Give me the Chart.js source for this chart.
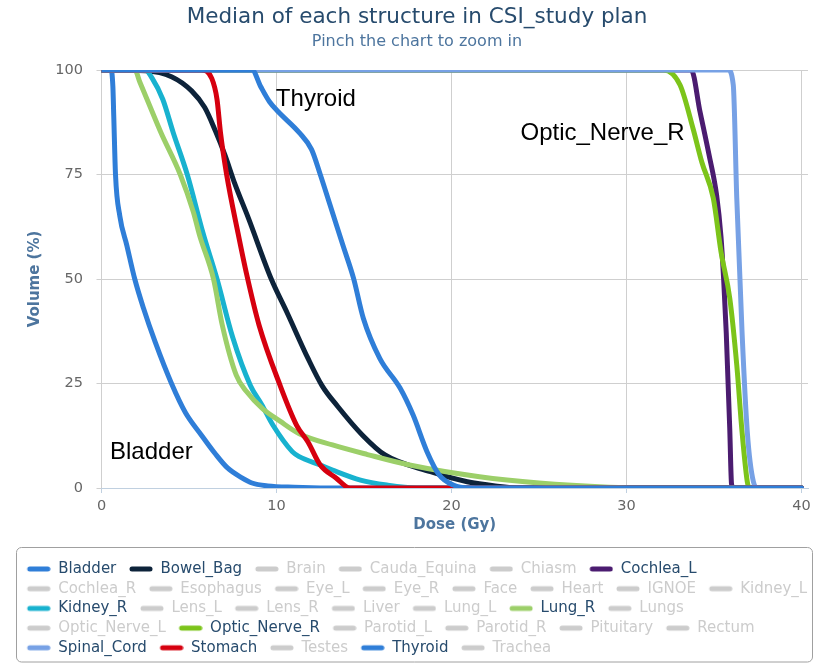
<!DOCTYPE html>
<html><head><meta charset="utf-8">
<script src="https://cdn.jsdelivr.net/npm/chart.js@4/dist/chart.umd.min.js"></script>
<style>html,body{margin:0;padding:0;background:#fff;}#wrap{width:824px;height:667px;}</style>
</head><body><div id="wrap"><canvas id="c" width="824" height="667"></canvas></div>
<script>
// ---- data ----
const chartTitle = 'Median of each structure in CSI_study plan';
const chartSubtitle = 'Pinch the chart to zoom in';
const xAxisTitle = 'Dose (Gy)';
const yAxisTitle = 'Volume (%)';
const doseTicks = [0, 10, 20, 30, 40];
const volumeTicks = [0, 25, 50, 75, 100];

const structures = ['Bladder','Bowel_Bag','Brain','Cauda_Equina','Chiasm','Cochlea_L','Cochlea_R','Esophagus','Eye_L','Eye_R','Face','Heart','IGNOE','Kidney_L','Kidney_R','Lens_L','Lens_R','Liver','Lung_L','Lung_R','Lungs','Optic_Nerve_L','Optic_Nerve_R','Parotid_L','Parotid_R','Pituitary','Rectum','Spinal_Cord','Stomach','Testes','Thyroid','Trachea'];
const shownStructures = ['Bladder','Bowel_Bag','Cochlea_L','Kidney_R','Lung_R','Optic_Nerve_R','Spinal_Cord','Stomach','Thyroid'];

const bladderDose   = [0, 0.55, 0.65, 0.7, 0.8, 1.05, 1.45, 1.9, 2.4, 3.06, 4.0, 4.8, 5.7, 6.5, 7.2, 8.0, 8.6, 9.5, 11, 14, 40];
const bladderVolume = [100, 100, 96, 89, 75, 65, 58, 50, 43, 35, 25, 18, 12.7, 8.2, 4.8, 2.5, 1.2, 0.5, 0.2, 0, 0];

const bowelBagDose   = [0, 2.5, 4.0, 5.15, 5.9, 6.5, 7.05, 7.6, 8.4, 9.7, 10.6, 11.8, 12.6, 13.5, 14.9, 16.2, 18.8, 20.9, 22.5, 24, 40];
const bowelBagVolume = [100, 99.8, 98.4, 95, 91, 85.5, 79.7, 73, 64.5, 50, 42, 31, 24.5, 19.5, 12.7, 7.9, 3.9, 1.5, 0.5, 0, 0];

const cochleaLDose   = [0, 33.7, 34.2, 34.7, 35.15, 35.4, 35.55, 35.7, 35.9, 36.0, 36.1, 40];
const cochleaLVolume = [100, 100, 90, 80, 70, 60, 50, 37, 14, 1, 0, 0];

const kidneyRDose   = [0, 2.5, 2.9, 3.5, 4.1, 4.9, 5.8, 6.6, 7.5, 8.5, 9.15, 9.8, 10.9, 11.3, 12.5, 13.2, 14.8, 16.3, 18, 40];
const kidneyRVolume = [100, 100, 98, 93, 85, 75, 61, 50, 36, 24.6, 20, 15, 8.7, 7.5, 5.5, 4.3, 1.9, 0.7, 0, 0];

const lungRDose   = [0, 1.9, 2.2, 2.6, 3.4, 4.5, 5.25, 5.6, 6.4, 6.9, 7.7, 8.3, 9.2, 10.2, 11.3, 13.2, 15.2, 17.6, 21.6, 25, 29, 31, 40];
const lungRVolume = [100, 100, 97, 93, 85, 75, 66, 60.5, 50, 39, 27, 23, 19, 16, 13, 10.3, 8, 5.5, 2.7, 1.2, 0.2, 0, 0];

const opticNerveRDose   = [0, 32.1, 33.06, 33.8, 34.3, 34.96, 35.4, 35.9, 36.3, 36.6, 36.9, 37.0, 40];
const opticNerveRVolume = [100, 100, 96.4, 86, 78, 69.3, 56.5, 45.4, 29.4, 13.5, 1.5, 0, 0];

const spinalCordDose   = [0, 35.8, 36.1, 36.3, 36.6, 36.9, 37.25, 37.5, 40];
const spinalCordVolume = [100, 100, 96.4, 69.3, 37.4, 13.5, 1.5, 0, 0];

const stomachDose   = [0, 5.7, 6.3, 6.6, 6.8, 7.15, 7.8, 8.3, 9.0, 10.2, 11.15, 11.8, 12.5, 13.4, 14.2, 40];
const stomachVolume = [100, 100, 98, 93, 85, 75, 61, 51, 39, 24.6, 15, 11, 5.5, 2.4, 0, 0];

const thyroidDose   = [0, 8.6, 9.1, 9.6, 10.1, 11.3, 12.0, 12.5, 13.06, 13.8, 14.4, 14.96, 15.9, 17.06, 17.8, 18.6, 19.3, 20.1, 21, 40];
const thyroidVolume = [100, 100, 96, 92.4, 90, 85, 81, 75, 67.7, 58, 50.2, 40.6, 31, 23.9, 17.5, 8.7, 3.1, 0.7, 0, 0];

const annotationTexts = ['Thyroid', 'Optic_Nerve_R', 'Bladder'];
const annotationDose = [12.25, 28.63, 2.85];
const annotationVolume = [91.5, 83.25, 6.87];

// ---- styles ----
const seriesColors = {
  Bladder: '#2f7ed8', Bowel_Bag: '#0d233a', Cochlea_L: '#4b1c70', Kidney_R: '#18b2cf',
  Lung_R: '#9ccf69', Optic_Nerve_R: '#7cc41a', Spinal_Cord: '#77a1e5', Stomach: '#d6000f', Thyroid: '#2f7ed8'
};
const hiddenColor = '#cccccc';
const legendTextColor = '#274b6d';

const seriesData = {
  Bladder: [bladderDose, bladderVolume],
  Bowel_Bag: [bowelBagDose, bowelBagVolume],
  Cochlea_L: [cochleaLDose, cochleaLVolume],
  Kidney_R: [kidneyRDose, kidneyRVolume],
  Lung_R: [lungRDose, lungRVolume],
  Optic_Nerve_R: [opticNerveRDose, opticNerveRVolume],
  Spinal_Cord: [spinalCordDose, spinalCordVolume],
  Stomach: [stomachDose, stomachVolume],
  Thyroid: [thyroidDose, thyroidVolume]
};

const datasets = shownStructures.map((name, i) => {
  const [dose, vol] = seriesData[name];
  return {
    label: name,
    data: dose.map((d, k) => ({x: d, y: vol[k]})),
    borderColor: seriesColors[name],
    backgroundColor: seriesColors[name],
    borderWidth: 5,
    pointRadius: 0,
    pointHoverRadius: 0,
    fill: false,
    cubicInterpolationMode: 'monotone',
    borderJoinStyle: 'round',
    borderCapStyle: 'round',
    order: shownStructures.length - i
  };
});

function makeSymbol(color) {
  const c = document.createElement('canvas');
  c.width = 32; c.height = 8;
  const g = c.getContext('2d');
  g.strokeStyle = color; g.lineWidth = 5; g.lineCap = 'round';
  g.beginPath(); g.moveTo(11, 4); g.lineTo(29, 4); g.stroke();
  return c;
}
const symbolCache = {};
function symbolFor(color) { return symbolCache[color] || (symbolCache[color] = makeSymbol(color)); }

const annotationPlugin = {
  id: 'annotations',
  afterDatasetsDraw(chart) {
    const ctx = chart.ctx, xs = chart.scales.x, ys = chart.scales.y;
    ctx.save();
    ctx.font = '24px "Liberation Sans", Arial, sans-serif';
    ctx.fillStyle = '#000';
    ctx.textAlign = 'center';
    ctx.textBaseline = 'alphabetic';
    annotationTexts.forEach((t, i) => {
      ctx.fillText(t, xs.getPixelForValue(annotationDose[i]), ys.getPixelForValue(annotationVolume[i]));
    });
    ctx.restore();
  }
};

const legendFramePlugin = {
  id: 'legendFrame',
  afterDraw(chart) {
    const L = chart.legend, ctx = chart.ctx;
    ctx.save();
    ctx.strokeStyle = '#a0a0a0';
    ctx.lineWidth = 1;
    ctx.beginPath();
    ctx.roundRect(16.5, Math.round(L.top) - 9.5, 796, 114.5, 5);
    ctx.stroke();
    ctx.restore();
  }
};

Chart.defaults.font.family = '"DejaVu Sans", Verdana, sans-serif';

new Chart(document.getElementById('c'), {
  type: 'line',
  data: {datasets},
  options: {
    responsive: false,
    devicePixelRatio: 1,
    animation: false,
    layout: {padding: {left: 14, right: 4, top: 0, bottom: 1.7}},
    plugins: {
      tooltip: {enabled: false},
      title: {display: true, text: chartTitle, color: '#274b6d', font: {size: 21.5, weight: 'normal'}, padding: {top: 4.1, bottom: 0}},
      subtitle: {display: true, text: chartSubtitle, color: '#4d759e', font: {size: 16, weight: 'normal'}, padding: {top: 2.5, bottom: 18.4}},
      legend: {
        position: 'bottom',
        align: 'start',
        labels: {
          usePointStyle: true,
          pointStyleWidth: 32,
          boxHeight: 15,
          padding: 4.7,
          font: {size: 15},
          generateLabels: () => structures.map(name => {
            const shown = shownStructures.includes(name);
            const col = shown ? seriesColors[name] : hiddenColor;
            return {
              text: name,
              fillStyle: col,
              strokeStyle: col,
              lineWidth: 0,
              hidden: false,
              fontColor: shown ? legendTextColor : hiddenColor,
              pointStyle: symbolFor(col),
              datasetIndex: shown ? shownStructures.indexOf(name) : undefined
            };
          })
        }
      }
    },
    scales: {
      x: {
        type: 'linear', min: 0, max: 40.37,
        afterBuildTicks: s => { s.ticks = doseTicks.map(v => ({value: v})); },
        afterFit: s => { s.height = 68.8; },
        grid: {color: '#cfcfcf', lineWidth: 1, drawTicks: true, tickLength: 5, tickColor: '#c0d0e0'},
        border: {display: true, color: '#c0d0e0', width: 1},
        ticks: {color: '#666', font: {size: 14.5}, padding: 5, maxRotation: 0, autoSkip: false},
        title: {display: true, text: xAxisTitle, color: '#4d759e', font: {size: 15, weight: 'bold'}, padding: {top: 0, bottom: 22.8}}
      },
      y: {
        type: 'linear', min: 0, max: 100,
        afterBuildTicks: s => { s.ticks = volumeTicks.map(v => ({value: v})); },
        afterFit: s => { s.width = 87.5; },
        grid: {color: '#cfcfcf', lineWidth: 1, drawTicks: true, tickLength: 5},
        border: {display: false},
        ticks: {color: '#666', font: {size: 14.5}, padding: 13.5},
        title: {display: true, text: yAxisTitle, color: '#4d759e', font: {size: 15, weight: 'bold'}, padding: {top: 12, bottom: 0}}
      },
      yRight: {
        type: 'linear', position: 'right', min: 0, max: 1, display: true,
        grid: {display: false}, border: {display: false}, ticks: {display: false},
        afterFit: s => { s.width = 12; }
      }
    }
  },
  plugins: [annotationPlugin, legendFramePlugin]
});
</script>
</body></html>
